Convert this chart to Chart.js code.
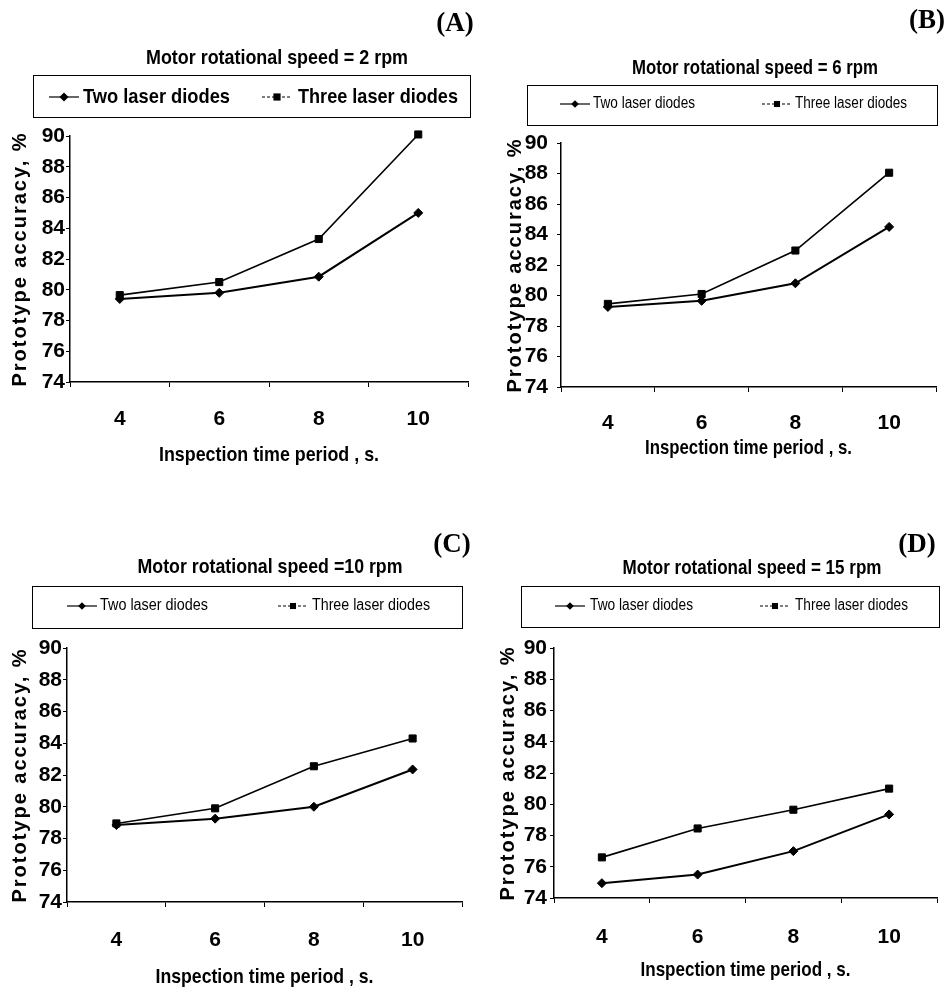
<!DOCTYPE html>
<html><head><meta charset="utf-8">
<script src="https://cdn.jsdelivr.net/npm/chart.js@4/dist/chart.umd.min.js"></script>
<style>
html,body{margin:0;padding:0;background:#fff;}
body{width:951px;height:991px;position:relative;overflow:hidden;}
canvas{position:absolute;}
</style></head><body>
<canvas id="cA" width="475" height="490" style="left:0px;top:0px"></canvas>
<canvas id="cB" width="475" height="490" style="left:476px;top:0px"></canvas>
<canvas id="cC" width="475" height="495" style="left:0px;top:496px"></canvas>
<canvas id="cD" width="475" height="495" style="left:476px;top:496px"></canvas>
<script>
// ---- data ----
const inspectionTimes = ['4', '6', '8', '10'];
const seriesNames = ['Two laser diodes', 'Three laser diodes'];
const speedTitles = ['Motor rotational speed = 2 rpm', 'Motor rotational speed = 6 rpm', 'Motor rotational speed =10 rpm', 'Motor rotational speed = 15 rpm'];
const panelLetters = ['(A)', '(B)', '(C)', '(D)'];
const xAxisTitle = 'Inspection time period , s.';
const yAxisTitle = 'Prototype accuracy, %';
const twoDiodesA = [79.4, 79.8, 80.85, 85.0];
const threeDiodesA = [79.65, 80.5, 83.3, 90.1];
const twoDiodesB = [79.25, 79.65, 80.8, 84.5];
const threeDiodesB = [79.45, 80.1, 82.95, 88.05];
const twoDiodesC = [78.85, 79.25, 80.0, 82.35];
const threeDiodesC = [78.95, 79.9, 82.55, 84.3];
const twoDiodesD = [74.95, 75.5, 77.0, 79.35];
const threeDiodesD = [76.6, 78.45, 79.65, 81.0];
const yMin = 74, yMax = 90, yStep = 2;

// ---- styling / layout ----
const SANS = "'Liberation Sans', Arial, sans-serif";
const SERIF = "'Liberation Serif', 'Times New Roman', serif";

const panels = [
  {id:'cA', ox:0, oy:0, w:475, h:490, area:{l:70,t:136,r:468,b:382}, yPad:1, yTitleX:20, xTickY:419, xTitleY:455, xTitleW:220,
   title:{x:277,y:58,w:262}, letter:{x:455,y:24},
   legend:{box:[33,75,470,117], y:97, size:21, weight:'bold', items:[{s:49,t:83,w:147},{s:262,t:298,w:160}]},
   two: twoDiodesA, three: threeDiodesA},
  {id:'cB', ox:476, oy:0, w:475, h:490, area:{l:561,t:143,r:936,b:387}, yPad:9, yTitleX:515, xTickY:423, xTitleY:448, xTitleW:207,
   title:{x:755,y:68,w:246}, letter:{x:927,y:21},
   legend:{box:[527,85,937,125], y:104, size:16, weight:'normal', items:[{s:560,t:593,w:102},{s:762,t:795,w:112}]},
   two: twoDiodesB, three: threeDiodesB},
  {id:'cC', ox:0, oy:496, w:475, h:495, area:{l:67,t:648,r:462,b:902}, yPad:1, yTitleX:20, xTickY:940, xTitleY:977, xTitleW:218,
   title:{x:270,y:567,w:265}, letter:{x:452,y:545},
   legend:{box:[32,586,462,628], y:606, size:16, weight:'normal', items:[{s:67,t:100,w:108},{s:278,t:312,w:118}]},
   two: twoDiodesC, three: threeDiodesC},
  {id:'cD', ox:476, oy:496, w:475, h:495, area:{l:554,t:648,r:937,b:898}, yPad:3, yTitleX:508, xTickY:937, xTitleY:970, xTitleW:210,
   title:{x:752,y:568,w:259}, letter:{x:917,y:545},
   legend:{box:[521,586,939,627], y:606, size:16, weight:'normal', items:[{s:555,t:590,w:103},{s:760,t:795,w:113}]},
   two: twoDiodesD, three: threeDiodesD}
];

function drawMarker(ctx, style, x, y, r) {
  ctx.beginPath();
  if (style === 'rectRot') {
    ctx.moveTo(x, y - r); ctx.lineTo(x + r, y); ctx.lineTo(x, y + r); ctx.lineTo(x - r, y); ctx.closePath();
  } else {
    ctx.rect(x - r * 0.8, y - r * 0.8, r * 1.6, r * 1.6);
  }
  ctx.fill();
}

// draw text squeezed horizontally to a target width (narrow-font look)
function fitText(ctx, text, x, y, width, align) {
  const natural = ctx.measureText(text).width;
  const sx = Math.min(1, width / natural);
  ctx.save();
  ctx.translate(x, y);
  ctx.scale(sx, 1);
  ctx.textAlign = align;
  ctx.fillText(text, 0, 0);
  ctx.restore();
}

const headerPlugin = {
  id: 'header',
  beforeDraw(chart, args, o) {
    const ys = chart.scales.y;
    if (ys && !ys.__ls) {
      const orig = ys.drawTitle;
      ys.drawTitle = function () { const c = this.ctx; c.save(); c.letterSpacing = '2px'; orig.call(this); c.restore(); };
      ys.__ls = true;
    }
    const xs = chart.scales.x;
    if (xs && !xs.__ls) {
      const origX = xs.drawTitle;
      xs.drawTitle = function () {
        const c = this.ctx;
        const f = Chart.helpers.toFont(this.options.title.font);
        c.save();
        c.font = f.string;
        const natural = c.measureText(this.options.title.text).width;
        const sx = Math.min(1, o.xTitleW / natural);
        const cx = (this.left + this.right) / 2;
        c.translate(cx, 0); c.scale(sx, 1); c.translate(-cx, 0);
        origX.call(this);
        c.restore();
      };
      xs.__ls = true;
    }
  },
  afterDraw(chart, args, o) {
    const ctx = chart.ctx;
    const ox = o.ox, oy = o.oy;
    ctx.save();
    ctx.fillStyle = '#000'; ctx.strokeStyle = '#000';
    ctx.textBaseline = 'middle';
    // title
    ctx.font = 'bold 21px ' + SANS;
    fitText(ctx, o.titleText, o.title.x - ox, o.title.y - oy, o.title.w, 'center');
    // letter
    ctx.font = 'bold 27px ' + SERIF;
    ctx.textAlign = 'center';
    ctx.fillText(o.letterText, o.letter.x - ox, o.letter.y - oy);
    // legend box
    const L = o.legend;
    ctx.lineWidth = 1;
    ctx.strokeRect(L.box[0] - ox + 0.5, L.box[1] - oy + 0.5, L.box[2] - L.box[0], L.box[3] - L.box[1]);
    ctx.font = L.weight + ' ' + L.size + 'px ' + SANS;
    chart.data.datasets.forEach((ds, i) => {
      const it = L.items[i];
      const y = L.y - oy;
      const sx = it.s - ox;
      ctx.save();
      ctx.lineWidth = 1.2;
      ctx.setLineDash(i === 1 ? [3, 2] : []);
      ctx.beginPath(); ctx.moveTo(sx, y); ctx.lineTo(sx + 30, y); ctx.stroke();
      ctx.restore();
      drawMarker(ctx, ds.pointStyle, sx + 15, y, L.size > 18 ? 4.5 : 3.8);
      fitText(ctx, ds.label, it.t - ox, y, it.w, 'left');
    });
    ctx.restore();
  }
};

panels.forEach((p, idx) => {
  const tickFont = {family: SANS, weight: 'bold', size: 21};
  const xTitleFont = {family: SANS, weight: 'bold', size: 21};
  const yTitleFont = {family: SANS, weight: 'bold', size: 20};
  const tl = 5;
  const xTickPad = (p.xTickY - p.area.b) - tl - tickFont.size * 1.2 / 2;
  const xTitlePadBottom = (p.oy + p.h) - p.xTitleY - xTitleFont.size * 1.2 / 2;
  const yTitlePadTop = (p.yTitleX - p.ox) - yTitleFont.size * 1.2 / 2;
  const xHeight = p.oy + p.h - p.area.b;
  const yWidth = p.area.l - p.ox;
  new Chart(document.getElementById(p.id), {
    type: 'line',
    data: {
      labels: inspectionTimes,
      datasets: [
        {label: seriesNames[0], data: p.two, borderColor: '#000', backgroundColor: '#000', borderWidth: 2,
         pointStyle: 'rectRot', pointRadius: 4.5, pointBorderWidth: 1, tension: 0, clip: false},
        {label: seriesNames[1], data: p.three, borderColor: '#000', backgroundColor: '#000', borderWidth: 1.6,
         pointStyle: 'rect', pointRadius: 5, pointBorderWidth: 1, tension: 0, clip: false}
      ]
    },
    options: {
      responsive: false, animation: false, devicePixelRatio: 1, events: [],
      layout: {padding: {top: p.area.t - p.oy, left: 0, right: p.ox + p.w - p.area.r, bottom: 0}},
      plugins: {
        legend: {display: false}, title: {display: false}, tooltip: {enabled: false},
        header: {ox: p.ox, oy: p.oy, title: p.title, titleText: speedTitles[idx], letter: p.letter,
                 letterText: panelLetters[idx], legend: p.legend, xTitleW: p.xTitleW}
      },
      scales: {
        x: {
          type: 'category', offset: true,
          grid: {offset: true, drawOnChartArea: false, drawTicks: true, tickLength: tl, color: '#000', lineWidth: 1},
          border: {display: true, color: '#000', width: 1.5},
          ticks: {color: '#000', font: tickFont, padding: xTickPad, maxRotation: 0},
          title: {display: true, text: xAxisTitle, color: '#000', font: xTitleFont, padding: {top: 0, bottom: xTitlePadBottom}},
          afterFit: (s) => { s.height = xHeight; }
        },
        y: {
          min: yMin, max: yMax,
          grid: {drawOnChartArea: false, drawTicks: true, tickLength: 4, color: '#000', lineWidth: 1},
          border: {display: true, color: '#000', width: 1.5},
          ticks: {stepSize: yStep, color: '#000', font: tickFont, padding: p.yPad},
          title: {display: true, text: yAxisTitle, color: '#000', font: yTitleFont, padding: {top: yTitlePadTop, bottom: 0}},
          afterFit: (s) => { s.width = yWidth; }
        }
      }
    },
    plugins: [headerPlugin]
  });
});
</script>
</body></html>
